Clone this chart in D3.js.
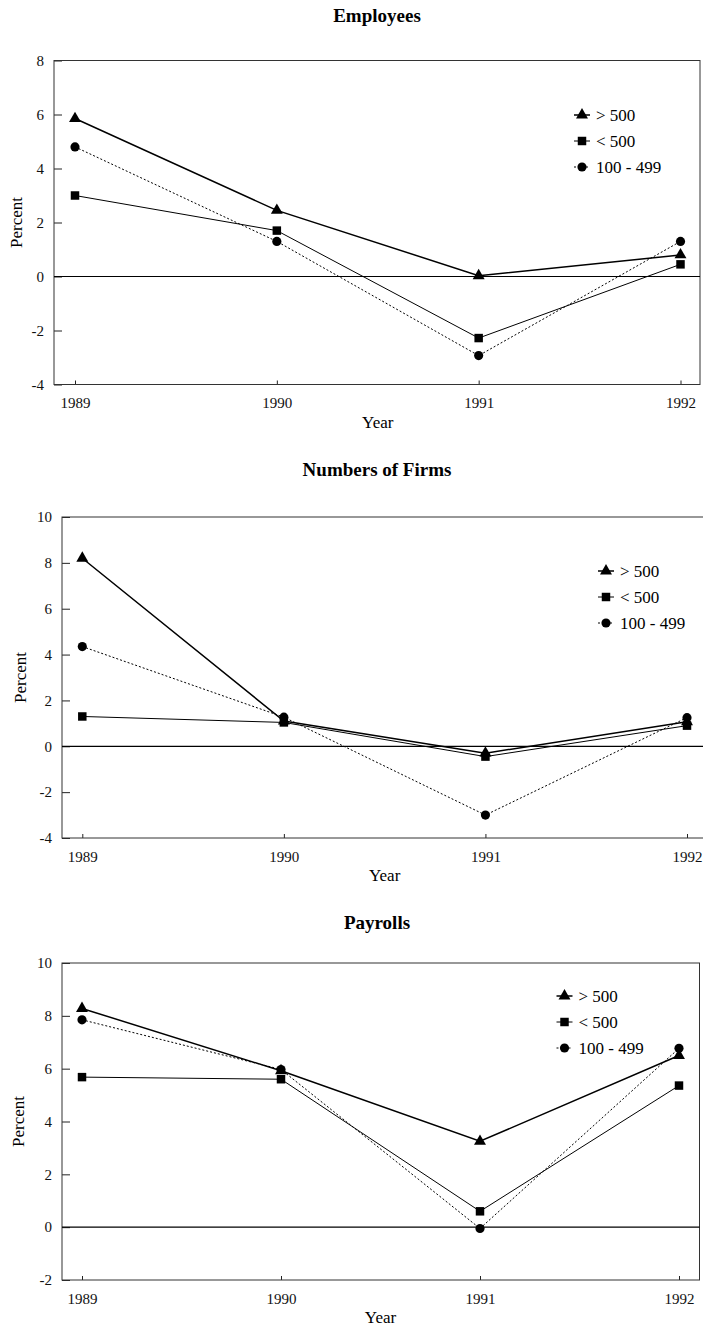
<!DOCTYPE html>
<html>
<head>
<meta charset="utf-8">
<script src="https://cdn.jsdelivr.net/npm/d3@7"></script>
<style>
  body { margin: 0; background: #fff; }
  svg { display: block; }
  svg text { font-family: "Liberation Serif", "Times New Roman", serif !important; }
</style>
</head>
<body>
<div id="chart"></div>
<script>
const years = [1989, 1990, 1991, 1992];
const seriesNames = ["> 500", "< 500", "100 - 499"];

// Employees, percent change
const employeesOver500 = [5.85, 2.45, 0.03, 0.8];
const employeesUnder500 = [3.0, 1.7, -2.28, 0.45];
const employees100to499 = [4.8, 1.3, -2.93, 1.3];

// Numbers of firms
const firmsOver500 = [8.2, 1.1, -0.3, 1.07];
const firmsUnder500 = [1.3, 1.04, -0.45, 0.9];
const firms100to499 = [4.35, 1.27, -3.0, 1.25];

// Payrolls
const payrollsOver500 = [8.28, 5.92, 3.25, 6.5];
const payrollsUnder500 = [5.68, 5.6, 0.6, 5.36];
const payrolls100to499 = [7.85, 5.97, -0.05, 6.77];

const titles = ["Employees", "Numbers of Firms", "Payrolls"];
const yTicksEmployees = [-4, -2, 0, 2, 4, 6, 8];
const yTicksFirms = [-4, -2, 0, 2, 4, 6, 8, 10];
const yTicksPayrolls = [-2, 0, 2, 4, 6, 8, 10];

const width = 703;
const height = 1332;

const svg = d3.select("#chart").append("svg")
  .attr("width", width)
  .attr("height", height);

// layout for each panel (pixel positions)
const layouts = [
  { frame: [54, 60.5, 700, 384.5], xr: [75, 680.5], titleY: 22, percentX: 16, legend: [582, 115] },
  { frame: [62, 517, 704, 838], xr: [82.3, 687], titleY: 476, percentX: 20, legend: [606, 571] },
  { frame: [62, 963, 699.5, 1280], xr: [82, 679], titleY: 929, percentX: 18, legend: [564.5, 996] }
];

const panels = [
  { title: titles[0], ticks: yTicksEmployees, series: [employeesOver500, employeesUnder500, employees100to499] },
  { title: titles[1], ticks: yTicksFirms, series: [firmsOver500, firmsUnder500, firms100to499] },
  { title: titles[2], ticks: yTicksPayrolls, series: [payrollsOver500, payrollsUnder500, payrolls100to499] }
];

const lineStyles = [
  { width: 1.5, dash: null, symbol: d3.symbolTriangle, size: 62 },
  { width: 1, dash: null, symbol: d3.symbolSquare, size: 72 },
  { width: 1, dash: "2,2", symbol: d3.symbolCircle, size: 66 }
];

panels.forEach((p, pi) => {
  const L = layouts[pi];
  const [x0, y0, x1, y1] = L.frame;

  const xScale = d3.scaleLinear()
    .domain([years[0], years[years.length - 1]])
    .range(L.xr);

  const yScale = d3.scaleLinear()
    .domain(d3.extent(p.ticks))
    .range([y1, y0]);

  const g = svg.append("g");

  // title
  g.append("text")
    .attr("x", 377)
    .attr("y", L.titleY)
    .attr("text-anchor", "middle")
    .style("font-weight", "bold")
    .style("font-size", "19px")
    .text(p.title);

  // y axis, ticks pointing into the plot
  const yAxis = g.append("g")
    .attr("transform", `translate(${x0},0)`)
    .call(d3.axisLeft(yScale).tickValues(p.ticks).tickSizeInner(-8).tickSizeOuter(0).tickPadding(10).tickFormat(d => String(d)));
  yAxis.select(".domain").remove();
  yAxis.selectAll("line").attr("stroke", "#222");
  yAxis.selectAll("text").attr("fill", "#111").style("font-size", "15px");

  // x axis
  const xAxis = g.append("g")
    .attr("transform", `translate(0,${y1})`)
    .call(d3.axisBottom(xScale).tickValues(years).tickSizeInner(-4).tickSizeOuter(0).tickPadding(13).tickFormat(d => String(d)));
  xAxis.select(".domain").remove();
  xAxis.selectAll("line").attr("stroke", "#222");
  xAxis.selectAll("text").attr("fill", "#111").style("font-size", "15px");

  // frame
  g.append("rect")
    .attr("x", x0)
    .attr("y", y0)
    .attr("width", x1 - x0)
    .attr("height", y1 - y0)
    .attr("fill", "none")
    .attr("stroke", "#333")
    .attr("stroke-width", 1);

  // zero line
  g.append("line")
    .attr("x1", x0)
    .attr("x2", x1)
    .attr("y1", yScale(0))
    .attr("y2", yScale(0))
    .attr("stroke", "#000")
    .attr("stroke-width", 1.2);

  // axis titles
  g.append("text")
    .attr("x", (L.xr[0] + L.xr[1]) / 2)
    .attr("y", y1 + 43)
    .attr("text-anchor", "middle")
    .style("font-size", "17px")
    .text("Year");

  g.append("text")
    .attr("transform", `translate(${L.percentX},${(y0 + y1) / 2}) rotate(-90)`)
    .attr("text-anchor", "middle")
    .attr("dy", "0.35em")
    .style("font-size", "17px")
    .text("Percent");

  const line = d3.line()
    .x((d, i) => xScale(years[i]))
    .y(d => yScale(d));

  // draw series (dotted first so solid lines sit on top)
  [2, 1, 0].forEach(si => {
    const st = lineStyles[si];
    const vals = p.series[si];
    g.append("path")
      .datum(vals)
      .attr("fill", "none")
      .attr("stroke", "#000")
      .attr("stroke-width", st.width)
      .attr("stroke-dasharray", st.dash)
      .attr("d", line);

    g.selectAll(null)
      .data(vals)
      .enter()
      .append("path")
      .attr("transform", (d, i) => `translate(${xScale(years[i])},${yScale(d)})`)
      .attr("d", d3.symbol().type(st.symbol).size(st.size))
      .attr("fill", "#000");
  });

  // legend
  const lg = g.append("g").attr("transform", `translate(${L.legend[0]},${L.legend[1]})`);
  seriesNames.forEach((name, si) => {
    const st = lineStyles[si];
    const row = lg.append("g").attr("transform", `translate(0,${si * 26})`);
    row.append("line")
      .attr("x1", -8)
      .attr("x2", 8)
      .attr("stroke", "#000")
      .attr("stroke-width", st.width)
      .attr("stroke-dasharray", st.dash);
    row.append("path")
      .attr("d", d3.symbol().type(st.symbol).size(st.size))
      .attr("fill", "#000");
    row.append("text")
      .attr("x", 14)
      .attr("dy", "0.35em")
      .style("font-size", "17px")
      .text(name);
  });
});
</script>
</body>
</html>
